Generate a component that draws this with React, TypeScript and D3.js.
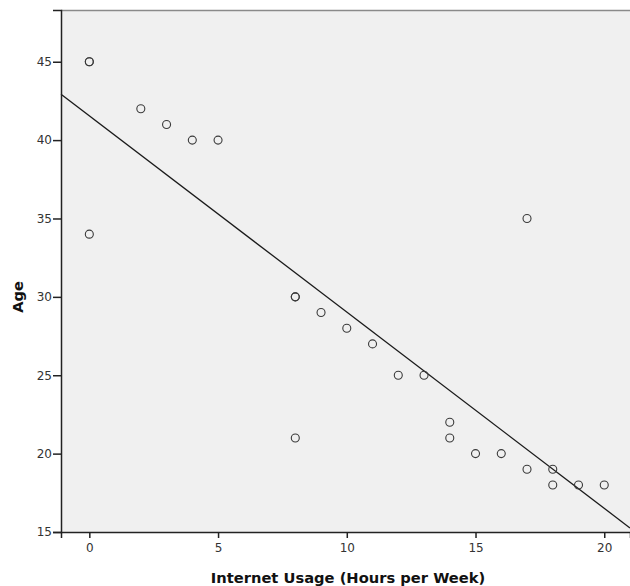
import { useEffect, useRef } from "react";
import * as d3 from "d3";

// hours of internet use per week, and age (duplicates drawn twice)
const hours = [0, 0, 0, 2, 3, 4, 5, 8, 8, 8, 9, 10, 11, 12, 13, 14, 14, 15, 16, 17, 17, 18, 18, 19, 20];
const ages = [45, 45, 34, 42, 41, 40, 40, 30, 30, 21, 29, 28, 27, 25, 25, 22, 21, 20, 20, 35, 19, 19, 18, 18, 18];
const xTicks = [0, 5, 10, 15, 20];
const yTicks = [15, 20, 25, 30, 35, 40, 45];

const FONT = "DejaVu Sans, Verdana, sans-serif";

export default function App() {
  const svgRef = useRef<SVGSVGElement>(null);

  useEffect(() => {
    const W = 630, H = 586;
    const m = { top: 10, right: 0, bottom: 54, left: 61 };
    const iW = W - m.left - m.right;
    const iH = H - m.top - m.bottom;

    const svg = d3.select(svgRef.current);
    svg.selectAll("*").remove();

    const x = d3.scaleLinear().domain([-1.1, 21]).range([0, iW]);
    const y = d3.scaleLinear().domain([15, 48.3]).range([iH, 0]);

    const g = svg.append("g").attr("transform", `translate(${m.left},${m.top})`);

    g.append("rect").attr("width", iW).attr("height", iH).attr("fill", "#f0f0f0");
    g.append("line").attr("x1", 0).attr("x2", iW).attr("y1", 0.5).attr("y2", 0.5)
      .attr("stroke", "#8a8a8a").attr("stroke-width", 1.5);

    // least squares fit line
    const mx = d3.mean(hours)!, my = d3.mean(ages)!;
    const sxy = d3.sum(hours, (d, i) => (d - mx) * (ages[i] - my));
    const sxx = d3.sum(hours, d => (d - mx) ** 2);
    const b = sxy / sxx, a = my - b * mx;
    const [x0, x1] = x.domain();
    g.append("line")
      .attr("x1", x(x0)).attr("y1", y(a + b * x0))
      .attr("x2", x(x1)).attr("y2", y(a + b * x1))
      .attr("stroke", "#1a1a1a").attr("stroke-width", 1.3);

    g.append("g").selectAll("circle").data(hours).join("circle")
      .attr("cx", d => x(d)).attr("cy", (d, i) => y(ages[i])).attr("r", 4)
      .attr("fill", "none").attr("stroke", "#3a3a3a").attr("stroke-width", 1.1);

    const style = (ax: any) => {
      ax.select(".domain").attr("stroke", "#222").attr("stroke-width", 1.5);
      ax.selectAll("line").attr("stroke", "#222").attr("stroke-width", 1.5);
      ax.selectAll("text").attr("fill", "#333").attr("font-size", "12px")
        .attr("font-family", FONT);
    };

    g.append("g").attr("transform", `translate(0,${iH})`)
      .call(d3.axisBottom(x).tickValues(xTicks).tickSizeOuter(0).tickSize(6).tickPadding(5))
      .call(style);
    g.append("g")
      .call(d3.axisLeft(y).tickValues(yTicks).tickSizeOuter(0).tickSize(8).tickPadding(1))
      .call(style);

    svg.append("text").attr("x", 348).attr("y", 583)
      .attr("text-anchor", "middle").attr("font-weight", "bold").attr("font-size", "14.7px")
      .attr("font-family", FONT).attr("fill", "#111")
      .text("Internet Usage (Hours per Week)");
    svg.append("text").attr("transform", `translate(23,${m.top + y(30)}) rotate(-90)`)
      .attr("text-anchor", "middle").attr("font-weight", "bold").attr("font-size", "14.7px")
      .attr("font-family", FONT).attr("fill", "#111")
      .text("Age");
  }, []);

  return (
    <svg ref={svgRef} width={630} height={586}
      style={{ position: "absolute", left: 0, top: 0, background: "#fff" }} />
  );
}
